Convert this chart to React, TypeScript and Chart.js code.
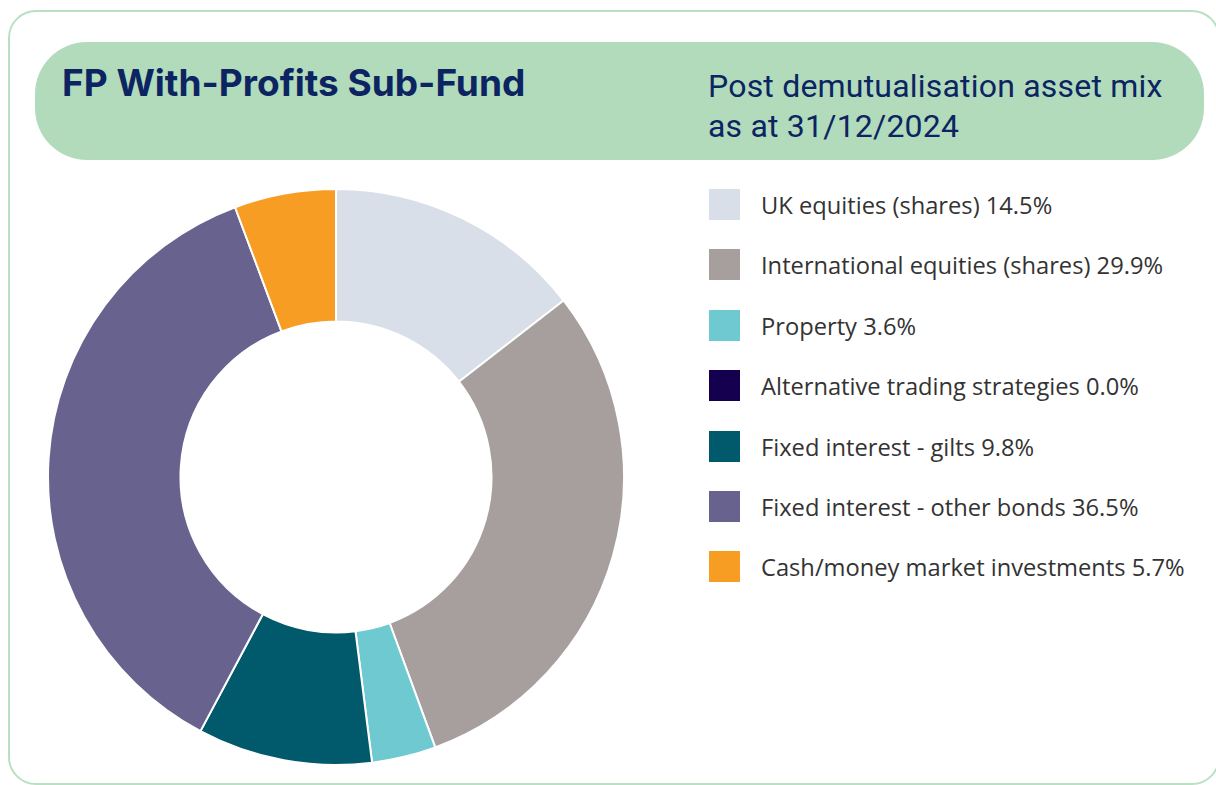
import React, { useEffect, useRef } from "react";
import { Chart, registerables } from "chart.js";

Chart.register(...registerables);

const categories = [
  "UK equities (shares)",
  "International equities (shares)",
  "Property",
  "Alternative trading strategies",
  "Fixed interest - gilts",
  "Fixed interest - other bonds",
  "Cash/money market investments",
];
const values = [14.5, 29.9, 3.6, 0.0, 9.8, 36.5, 5.7];
const colors = ["#d9dfe8", "#a69f9e", "#6ecad0", "#14004f", "#005a6b", "#68628f", "#f89d24"];
const title = "FP With-Profits Sub-Fund";
const subtitleLines = ["Post demutualisation asset mix", "as at 31/12/2024"];

export default function App() {
  const ref = useRef<HTMLCanvasElement>(null);

  useEffect(() => {
    document.body.style.margin = "0";
    const chart = new Chart(ref.current!, {
      type: "doughnut",
      data: {
        labels: categories,
        datasets: [
          {
            data: values,
            backgroundColor: colors,
            borderColor: "#ffffff",
            borderWidth: values.map((v) => (v > 0 ? 2 : 0)),
          },
        ],
      },
      options: {
        responsive: false,
        animation: false,
        cutout: "54%",
        layout: { padding: 0 },
        plugins: { legend: { display: false }, tooltip: { enabled: false } },
      },
    });
    return () => chart.destroy();
  }, []);

  const navy = "#0c2461";

  return (
    <div style={{ position: "relative", width: 1216, height: 785, overflow: "hidden", background: "#fff" }}>
      <div
        style={{
          position: "absolute",
          left: 8,
          top: 10,
          width: 1212,
          height: 775,
          boxSizing: "border-box",
          border: "2px solid #b9e0c3",
          borderRadius: 28,
        }}
      />
      <div
        style={{
          position: "absolute",
          left: 35,
          top: 42,
          width: 1169,
          height: 118,
          background: "#b2dbbb",
          borderRadius: 52,
        }}
      />
      <div
        style={{
          position: "absolute",
          left: 62,
          top: 63,
          fontFamily: "Inter, sans-serif",
          fontWeight: 700,
          fontSize: 37,
          lineHeight: "40px",
          letterSpacing: "0px",
          color: navy,
          whiteSpace: "nowrap",
        }}
      >
        {title}
      </div>
      <div
        style={{
          position: "absolute",
          left: 708,
          top: 66,
          fontFamily: "Roboto, sans-serif",
          fontWeight: 400,
          fontSize: 32,
          lineHeight: "40px",
          letterSpacing: "0.2px",
          color: navy,
          whiteSpace: "nowrap",
        }}
      >
        {subtitleLines.map((l, i) => (
          <div key={i}>{l}</div>
        ))}
      </div>
      <canvas
        ref={ref}
        width={578}
        height={578}
        style={{ position: "absolute", left: 47, top: 188, width: 578, height: 578 }}
      />
      <div style={{ position: "absolute", left: 709, top: 189 }}>
        {categories.map((c, i) => (
          <div
            key={c}
            style={{ display: "flex", alignItems: "center", height: 31, marginBottom: 29.4 }}
          >
            <div style={{ width: 31, height: 31, background: colors[i], flex: "none" }} />
            <div
              style={{
                marginLeft: 21,
                fontFamily: "'Open Sans', sans-serif",
                fontSize: 23.7,
                color: "#333333",
                whiteSpace: "nowrap",
                lineHeight: "31px",
                position: "relative",
                top: 1,
              }}
            >
              {c} {values[i].toFixed(1)}%
            </div>
          </div>
        ))}
      </div>
    </div>
  );
}
